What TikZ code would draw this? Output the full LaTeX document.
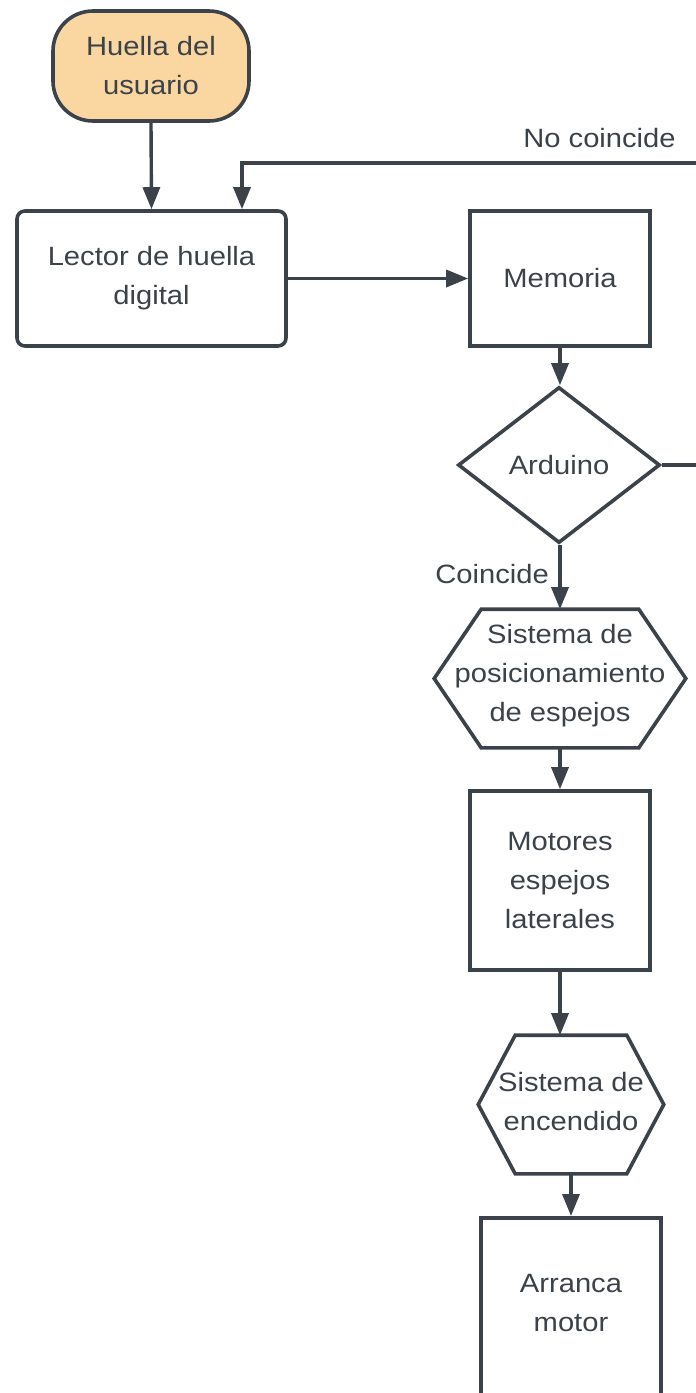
\documentclass[tikz,border=0pt]{standalone}
\usepackage{fontspec}
\setmainfont{Liberation Sans}[FakeStretch=1.1]
\usetikzlibrary{arrows.meta,shapes.geometric}
\definecolor{ink}{HTML}{3C424A}
\definecolor{peach}{HTML}{FAD6A0}
\tikzset{
  base/.style={draw=ink, line width=3.6pt, text=ink, align=center, inner sep=0pt,
    font=\fontsize{26.5}{39}\selectfont},
  startbox/.style={base, fill=peach, rounded corners=40pt, minimum width=196pt, minimum height=110pt},
  roundbox/.style={base, fill=white, rounded corners=8pt},
  plainbox/.style={base, fill=white},
  decide/.style={base, fill=white, diamond, minimum width=202pt, minimum height=156pt},
  hexarea/.style={base, draw=none},
  lbl/.style={text=ink, inner sep=0pt, font=\fontsize{26.5}{39}\selectfont},
  flow/.style={draw=ink, line width=3.4pt, -{Triangle[length=22pt,width=17pt]}},
  plain/.style={draw=ink, line width=3.4pt},
}
\begin{document}
\begin{tikzpicture}[x=1pt,y=-1pt]
\useasboundingbox (0,0) rectangle (696,1393);
\clip (0,0) rectangle (696,1393);
\fill[white] (0,0) rectangle (696,1393);

% nodes
\node[startbox] (hu) at (151,66) {Huella del\\usuario};
\node[roundbox, minimum width=269pt, minimum height=135pt] (lec) at (151.5,278.5) {Lector de huella\\digital};
\node[plainbox, minimum width=180pt, minimum height=135pt] (mem) at (560,278.5) {Memoria};
\node[decide] (ard) at (559,465) {Arduino};

% hexagon 1
\node[hexarea, minimum width=248pt, minimum height=135pt] (hx1) at (560,678.5) {};
\filldraw[draw=ink, fill=white, line width=3.6pt, line join=miter]
  ([xshift=47pt]hx1.north west) -- ([xshift=-47pt]hx1.north east) -- (hx1.east)
  -- ([xshift=-47pt]hx1.south east) -- ([xshift=47pt]hx1.south west) -- (hx1.west) -- cycle;
\node[lbl, align=center] (hx1t) at (560,676) {Sistema de\\posicionamiento\\de espejos};

\node[plainbox, minimum width=180pt, minimum height=179pt] (mot) at (560,880.5) {Motores\\espejos\\laterales};

% hexagon 2
\node[hexarea, minimum width=182pt, minimum height=135pt] (hx2) at (571,1104.5) {};
\filldraw[draw=ink, fill=white, line width=3.6pt, line join=miter]
  ([xshift=37pt]hx2.north west) -- ([xshift=-37pt]hx2.north east) -- (hx2.east)
  -- ([xshift=-37pt]hx2.south east) -- ([xshift=37pt]hx2.south west) -- (hx2.west) -- cycle;
\node[lbl, align=center] (hx2t) at (571,1102) {Sistema de\\encendido};

\node[plainbox, minimum width=180pt, minimum height=280pt, anchor=north] (arr) at (571,1216) {};
\node[lbl, align=center] (arrt) at (571,1303) {Arranca\\motor};

% labels
\node[lbl] (nc) at (599.5,138) {No coincide};
\node[lbl, anchor=east] (co) at (549,574) {Coincide};

% connectors
\coordinate (fb) at (730,163);
\draw[flow] (hu.south) -- (lec.north);
\draw[flow] (ard.east) -| (fb) -| ([xshift=90.5pt]lec.north);
\draw[flow] (lec.east) -- (mem.west);
\draw[flow] (mem.south) -- ([xshift=1pt]ard.north);
\draw[flow] ([xshift=1pt]ard.south) -- (hx1.north);
\draw[flow] (hx1.south) -- (mot.north);
\draw[flow] (mot.south) -- ([xshift=-11pt]hx2.north);
\draw[flow] (hx2.south) -- (arr.north);
\end{tikzpicture}
\end{document}
